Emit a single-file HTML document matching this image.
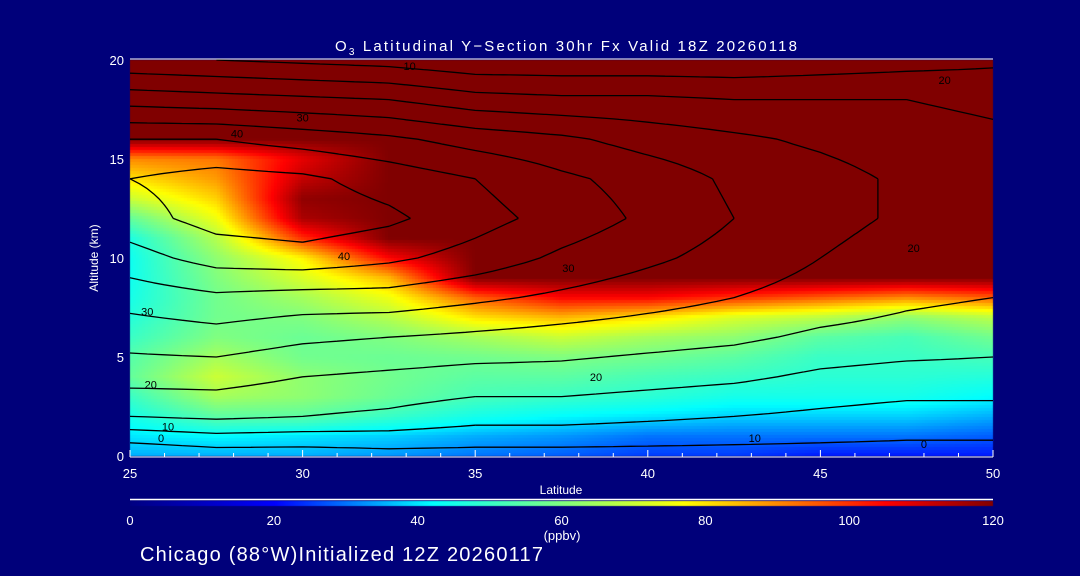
<!DOCTYPE html>
<html><head><meta charset="utf-8"><style>
body{margin:0;background:#00007a;width:1080px;height:576px;overflow:hidden;font-family:"Liberation Sans",sans-serif;}
#wrap{position:relative;width:1080px;height:576px;}
canvas{position:absolute;left:0;top:0}
svg{position:absolute;left:0;top:0}
</style></head><body><div id="wrap">
<canvas id="cv" width="1080" height="576"></canvas>
<svg id="sv" width="1080" height="576"></svg>
</div>
<script>
const lats=[25,27.5,30,32.5,35,37.5,40,42.5,45,47.5,50];
const ozAlts=[0,1,2,3,4,5,6,7,8,9,10,11,12,13,14,15,16,17,18,19,20];
const oz25=[35,40,45,50,56,54,50,47,45,44,44,46,56,70,80,90,120,120,120,120,120];
const oz275=[35,42,55,65,70,65,60,58,58,60,62,67,75,82,88,92,120,120,120,120,120];
const oz30=[35,40,55,62,62,58,57,60,65,72,78,100,115,118,112,108,120,120,120,120,120];
const oz325=[33,38,50,57,58,57,60,67,75,85,105,120,120,120,120,120,120,120,120,120,120];
const oz35=[30,35,45,52,55,58,65,80,95,120,120,120,120,120,120,120,120,120,120,120,120];
const oz375=[28,33,42,50,55,60,70,85,105,120,120,120,120,120,120,120,120,120,120,120,120];
const oz40=[25,30,40,48,52,58,65,80,105,120,120,120,120,120,120,120,120,120,120,120,120];
const oz425=[25,30,38,45,50,55,62,72,100,120,120,120,120,120,120,120,120,120,120,120,120];
const oz45=[22,30,38,45,48,50,55,68,95,120,120,120,120,120,120,120,120,120,120,120,120];
const oz475=[22,30,38,45,48,50,52,62,90,120,120,120,120,120,120,120,120,120,120,120,120];
const oz50=[22,28,35,42,47,52,58,68,95,120,120,120,120,120,120,120,120,120,120,120,120];
const ozone=[oz25,oz275,oz30,oz325,oz35,oz375,oz40,oz425,oz45,oz475,oz50];
const cAlts=[0,2,4,6,8,10,12,14,16,18,20];
const w25=[0,15,22,27,32,38,43,45,40,28,16];
const w275=[2,16,22,28,34,42,47,47,40,27,15];
const w30=[2,15,20,26,33,43,48,46,38,26,14];
const w325=[3,14,19,25,33,41,46,43,36,25,13];
const w35=[3,12,18,24,31,38,42,40,33,22,11];
const w375=[3,12,18,23,29,34,38,36,31,21,11];
const w40=[3,11,17,22,27,31,34,33,28,21,11];
const w425=[3,10,16,21,25,28,30,29,26,20,11];
const w45=[3,9,14,19,23,25,27,27,24,20,12];
const w475=[3,8,13,18,21,22,24,24,22,20,13];
const w50=[3,8,13,17,20,21,22,22,21,19,14];
const wind=[w25,w275,w30,w325,w35,w375,w40,w425,w45,w475,w50];
const levels=[0,5,10,15,20,25,30,35,40,45];
const xTicks=[25,30,35,40,45,50];
const yTicks=[0,5,10,15,20];
const cbTicks=[0,20,40,60,80,100,120];
const labels=[[33.1,19.7,"10"],[30.0,17.1,"30"],[28.1,16.3,"40"],[48.6,19.0,"20"],[31.2,10.1,"40"],[37.7,9.5,"30"],[47.7,10.5,"20"],[25.5,7.3,"30"],[25.6,3.6,"20"],[26.1,1.5,"10"],[25.9,0.9,"0"],[38.5,4.0,"20"],[43.1,0.9,"10"],[48.0,0.6,"0"]];

const X0=130,X1=993,Y0=456,Y1=60;
const xs=v=>X0+(v-25)/25*(X1-X0);
const ys=a=>Y0-a/20*(Y0-Y1);
const stops=[[0,[0,0,130]],[20,[0,0,255]],[42,[0,255,255]],[60,[128,255,128]],[77,[255,255,0]],[105,[255,0,0]],[120,[128,0,0]]];
function cmap(v){v=Math.max(0,Math.min(120,v));for(let i=1;i<stops.length;i++){if(v<=stops[i][0]){const a=stops[i-1],b=stops[i];const t=(v-a[0])/(b[0]-a[0]);return a[1].map((c,k)=>Math.round(c+(b[1][k]-c)*t));}}return [128,0,0];}
function interp(grid,ax,lat,alt){
  let fi=(lat-25)/2.5;fi=Math.max(0,Math.min(lats.length-1.0001,fi));
  const step=ax[1]-ax[0];let fj=alt/step;fj=Math.max(0,Math.min(ax.length-1.0001,fj));
  const i=Math.floor(fi),j=Math.floor(fj),u=fi-i,v=fj-j;
  return grid[i][j]*(1-u)*(1-v)+grid[i+1][j]*u*(1-v)+grid[i][j+1]*(1-u)*v+grid[i+1][j+1]*u*v;
}
const ctx=document.getElementById('cv').getContext('2d');
const cw=3,ch=3;
for(let px=X0;px<X1;px+=cw){for(let py=Y1;py<Y0;py+=ch){
  const lat=25+(px+cw/2-X0)/(X1-X0)*25, alt=(Y0-py-ch/2)/(Y0-Y1)*20;
  const c=cmap(interp(ozone,ozAlts,lat,alt));ctx.fillStyle=`rgb(${c[0]},${c[1]},${c[2]})`;
  ctx.fillRect(px,py,Math.min(cw,X1-px),Math.min(ch,Y0-py));}}
for(let px=X0;px<X1;px++){const c=cmap((px-X0)/(X1-X0)*120);ctx.fillStyle=`rgb(${c[0]},${c[1]},${c[2]})`;ctx.fillRect(px,501,1,5);}
const NS='http://www.w3.org/2000/svg',sv=document.getElementById('sv');
function mk(t,a,p){const e=document.createElementNS(NS,t);for(const k in a)e.setAttribute(k,a[k]);(p||sv).appendChild(e);return e;}
const NX=50,NY=80;const G=[];
for(let i=0;i<=NX;i++){G[i]=[];for(let j=0;j<=NY;j++)G[i][j]=interp(wind,cAlts,25+25*i/NX,20*j/NY);}
const cg=mk('g',{});


levels.forEach(L=>{let d='';
  for(let i=0;i<NX;i++)for(let j=0;j<NY;j++){
    const v=[G[i][j],G[i+1][j],G[i+1][j+1],G[i][j+1]];
    const P=[[i,j],[i+1,j],[i+1,j+1],[i,j+1]];const pts=[];
    for(let k=0;k<4;k++){const a=v[k],b=v[(k+1)%4];if((a<L)!==(b<L)){const t=(L-a)/(b-a);const p=P[k],q=P[(k+1)%4];
      pts.push([xs(25+25*(p[0]+(q[0]-p[0])*t)/NX),ys(20*(p[1]+(q[1]-p[1])*t)/NY)]);}}
    for(let k=0;k+1<pts.length;k+=2)d+=`M${pts[k][0].toFixed(1)},${pts[k][1].toFixed(1)}L${pts[k+1][0].toFixed(1)},${pts[k+1][1].toFixed(1)}`;}
  const p=mk('path',{d:d,stroke:'#000','stroke-width':1.3,fill:'none'},cg);
  
  
});
labels.forEach(l=>{const t=mk('text',{x:xs(l[0]),y:ys(l[1])+4,'font-size':11,fill:'#000','text-anchor':'middle'});t.textContent=l[2];
  
  });
mk('line',{x1:X0,y1:Y1-1,x2:X1,y2:Y1-1,stroke:'#fff','stroke-width':1});
mk('line',{x1:X0,y1:Y0+1,x2:X1,y2:Y0+1,stroke:'#fff','stroke-width':1});
for(let v=25;v<=50;v++){mk('line',{x1:xs(v),y1:Y0+1,x2:xs(v),y2:Y0-(v%5?3:6),stroke:'#fff'});}
xTicks.forEach(v=>{const t=mk('text',{x:xs(v),y:478,'font-size':13,fill:'#fff','text-anchor':'middle'});t.textContent=v;
  
  });
yTicks.forEach(v=>{const t=mk('text',{x:124,y:ys(v)+5,'font-size':13,fill:'#fff','text-anchor':'end'});t.textContent=v;
  
  });
mk('line',{x1:X0,y1:499.5,x2:X1,y2:499.5,stroke:'#fff','stroke-width':1.5});
cbTicks.forEach(v=>{const t=mk('text',{x:X0+v/120*(X1-X0),y:525,'font-size':13,fill:'#fff','text-anchor':'middle'});t.textContent=v;
  
  });
</script>
<svg width="1080" height="576" style="position:absolute;left:0;top:0">
<text x="335" y="51" font-size="15" fill="#fff" font-family="Liberation Sans" textLength="462" lengthAdjust="spacing">O<tspan font-size="10" dy="4">3</tspan><tspan dy="-4"> Latitudinal Y−Section 30hr  Fx Valid 18Z 20260118</tspan></text>
<text x="561" y="494" font-size="12" fill="#fff" text-anchor="middle" font-family="Liberation Sans">Latitude</text>
<text x="98" y="258" font-size="12" fill="#fff" text-anchor="middle" font-family="Liberation Sans" transform="rotate(-90 98 258)">Altitude (km)</text>
<text x="562" y="540" font-size="13" fill="#fff" text-anchor="middle" font-family="Liberation Sans">(ppbv)</text>
<text x="140" y="561" font-size="20" fill="#fff" font-family="Liberation Sans" textLength="403" lengthAdjust="spacing">Chicago (88°W)Initialized 12Z 20260117</text>
</svg>
</body></html>
